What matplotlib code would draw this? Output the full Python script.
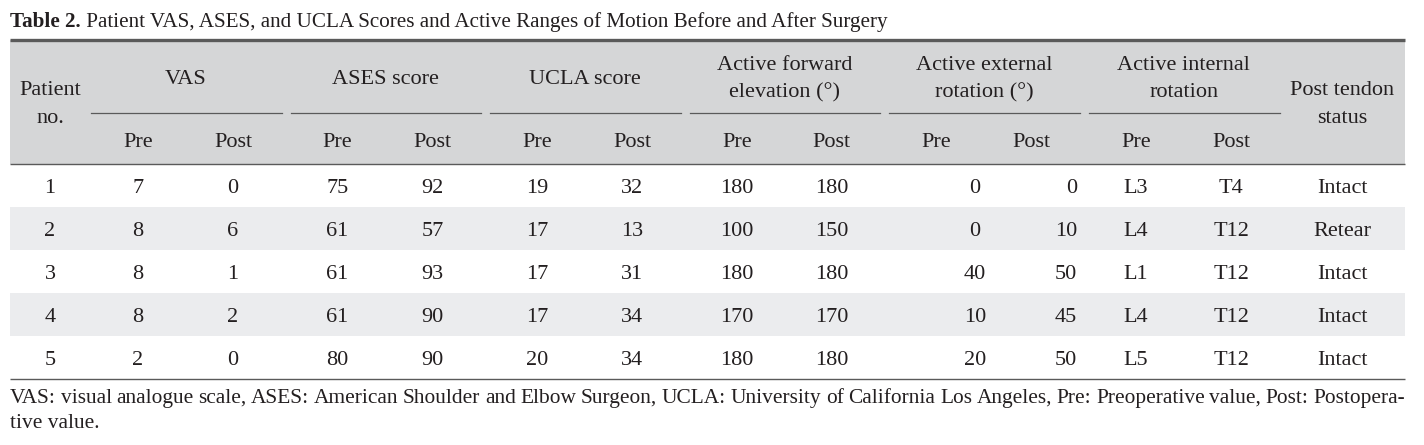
import matplotlib
matplotlib.use("Agg")
import matplotlib.pyplot as plt
from matplotlib.patches import Rectangle

plt.rcParams["font.family"] = ["Liberation Serif", "DejaVu Serif"]

# ---- table data ----
patient_no = [1, 2, 3, 4, 5]
vas_pre = [7, 8, 8, 8, 2]
vas_post = [0, 6, 1, 2, 0]
ases_pre = [75, 61, 61, 61, 80]
ases_post = [92, 57, 93, 90, 90]
ucla_pre = [19, 17, 17, 17, 20]
ucla_post = [32, 13, 31, 34, 34]
afe_pre = [180, 100, 180, 170, 180]
afe_post = [180, 150, 180, 170, 180]
aer_pre = [0, 0, 40, 10, 20]
aer_post = [0, 10, 50, 45, 50]
air_pre = ["L3", "L4", "L1", "L4", "L5"]
air_post = ["T4", "T12", "T12", "T12", "T12"]
tendon_status = ["Intact", "Retear", "Intact", "Intact", "Intact"]

group_titles = [["VAS"], ["ASES score"], ["UCLA score"],
                ["Active forward", "elevation (°)"],
                ["Active external", "rotation (°)"],
                ["Active internal", "rotation"]]
sub_titles = ["Pre", "Post"]
title_bold = "Table 2."
title_rest = " Patient VAS, ASES, and UCLA Scores and Active Ranges of Motion Before and After Surgery"
footnote_1 = ("VAS: visual analogue scale, ASES: American Shoulder and Elbow Surgeon, UCLA: University of "
              "California Los Angeles, Pre: Preoperative value, Post: Postopera-")
footnote_2 = "tive value."

# ---- layout (pixel coordinates) ----
W, H = 1424, 445
LEFT, RIGHT = 10, 1405
TOP_RULE, MID_RULE, HEAD_BOT = 40, 113, 164
ROW_H = 43
FS = 16
FS_NOTE = 15.4
TXT = "#231f20"
HEAD_BG = "#d5d6d7"
ROW_BG = "#ebecee"
RULE = "#5a5a5a"

fig = plt.figure(figsize=(W / 100, H / 100), dpi=100)
ax = fig.add_axes([0, 0, 1, 1])
ax.set_xlim(0, W)
ax.set_ylim(H, 0)
ax.axis("off")


def put(x, y, s, ha="center", **kw):
    kw.setdefault("fontsize", FS)
    return ax.text(x, y, s, ha=ha, va="baseline", color=TXT, **kw)


# backgrounds
ax.add_patch(Rectangle((LEFT, TOP_RULE), RIGHT - LEFT, HEAD_BOT - TOP_RULE, color=HEAD_BG, lw=0))
n_rows = len(patient_no)
for i in range(n_rows):
    if i % 2 == 1:
        ax.add_patch(Rectangle((LEFT, HEAD_BOT + i * ROW_H), RIGHT - LEFT, ROW_H, color=ROW_BG, lw=0))

# rules
ax.plot([LEFT, RIGHT], [TOP_RULE, TOP_RULE], color=RULE, lw=2.4, solid_capstyle="butt")
ax.plot([LEFT, RIGHT], [HEAD_BOT, HEAD_BOT], color=RULE, lw=1.0, solid_capstyle="butt")
bottom = HEAD_BOT + n_rows * ROW_H
ax.plot([LEFT, RIGHT], [bottom, bottom], color=RULE, lw=1.0, solid_capstyle="butt")

# header
g0, gw = 90, 199.6
put(50, 95, "Patient")
put(50, 123, "no.")
put(1342, 95, "Post tendon")
put(1342, 123, "status")
sub_x = []
for k, lines in enumerate(group_titles):
    gs = g0 + k * gw
    if len(lines) == 1:
        put(gs + gw / 2 - 4, 84, lines[0])
    else:
        put(gs + gw / 2 - 4, 70, lines[0])
        put(gs + gw / 2 - 4, 97, lines[1])
    ax.plot([gs + 1, gs + gw - 8], [MID_RULE, MID_RULE], color=RULE, lw=0.9)
    for j, st in enumerate(sub_titles):
        cx = gs + 48 + j * 95
        sub_x.append(cx)
        put(cx, 147, st)

# body
columns = [vas_pre, vas_post, ases_pre, ases_post, ucla_pre, ucla_post,
           afe_pre, afe_post, aer_pre, aer_post, air_pre, air_post]
for i in range(n_rows):
    yb = HEAD_BOT + 29 + i * ROW_H
    put(50, yb, str(patient_no[i]))
    for c, col in enumerate(columns):
        cx = sub_x[c]
        ha = "center"
        if c == 8:
            cx = 975
        elif c == 9:
            cx, ha = 1077, "right"
        put(cx, yb, str(col[i]), ha=ha)
    put(1342, yb, tendon_status[i])

# title
fig.canvas.draw()
r = fig.canvas.get_renderer()
tb = put(LEFT, 27, title_bold, ha="left", fontsize=15.2, fontweight="bold")
bb = tb.get_window_extent(renderer=r)
put(LEFT + bb.width, 27, title_rest, ha="left", fontsize=15.2)

# footnote, first line justified to the table width
words = footnote_1.split(" ")
widths = []
for w in words:
    t = ax.text(0, 0, w, fontsize=FS_NOTE)
    widths.append(t.get_window_extent(renderer=r).width)
    t.remove()
gap = (RIGHT - LEFT - sum(widths)) / (len(words) - 1)
x = LEFT
for w, wd in zip(words, widths):
    put(x, 403, w, ha="left", fontsize=FS_NOTE)
    x += wd + gap
put(LEFT, 428, footnote_2, ha="left", fontsize=FS_NOTE)

fig.savefig("out.png", dpi=100)
